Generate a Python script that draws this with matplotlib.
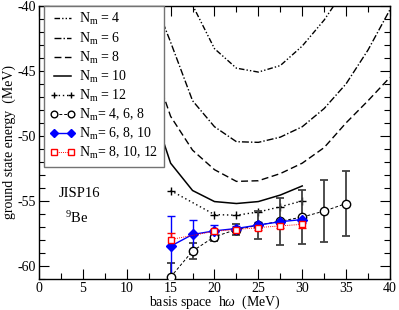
import matplotlib
matplotlib.use('Agg')
import matplotlib.pyplot as plt
from matplotlib.ticker import MultipleLocator

plt.rcParams['font.family'] = ['Liberation Serif', 'DejaVu Serif']
plt.rcParams['mathtext.fontset'] = 'custom'
plt.rcParams['mathtext.rm'] = 'Liberation Serif'
plt.rcParams['mathtext.it'] = 'Liberation Serif:italic'
plt.rcParams['axes.unicode_minus'] = False

# ---- data ----
nm4_x = [15, 17.5, 20, 22.5, 25, 27.5, 30, 32.5, 35]
nm4_y = [-36.5, -39.95, -43.3, -44.8, -45.1, -44.6, -43.1, -41.1, -38.6]

nm6_x = [12.5, 15, 17.5, 20, 22.5, 25, 27.5, 30, 32.5, 35, 37.5, 40]
nm6_y = [-38.5, -42.8, -47.3, -49.3, -50.45, -50.5, -50.1, -49.3, -47.9, -46.0, -43.4, -40.3]

nm8_x = [12.5, 15, 17.5, 20, 22.5, 25, 27.5, 30, 32.5, 35, 37.5, 40]
nm8_y = [-43.6, -48.5, -51.1, -52.6, -53.5, -53.45, -52.9, -52.1, -50.9, -49.0, -47.3, -45.5]

nm10_x = [12.5, 15, 17.5, 20, 22.5, 25, 27.5, 30]
nm10_y = [-47.0, -52.1, -54.2, -55.05, -55.2, -55.05, -54.55, -53.85]

nm12_x = [15, 20, 22.5, 25, 27.5, 30]
nm12_y = [-54.2, -56.05, -56.1, -55.85, -55.45, -55.0]

ext468_x = [15, 17.5, 20, 22.5, 25, 27.5, 30, 32.5, 35]
ext468_y = [-60.85, -58.85, -57.75, -57.2, -56.86, -56.56, -56.24, -55.78, -55.2]
ext468_err = [1.05, 0.6, 0.3, 0.4, 1.09, 1.79, 2.1, 2.38, 2.5]

ext6810_x = [15, 17.5, 20, 22.5, 25, 27.5, 30]
ext6810_y = [-58.48, -57.58, -57.3, -57.12, -56.85, -56.6, -56.43]
ext6810_err = [2.33, 1.15, 0.45, 0.2, 0.2, 0.15, 0.3]

ext81012_x = [15, 20, 22.5, 25, 27.5, 30]
ext81012_y = [-57.97, -57.33, -57.2, -57.05, -56.92, -56.8]
ext81012_err = [0.5, 0.2, 0.15, 0.2, 0.15, 0.3]

labels = [r'N$_\mathrm{m}$ = 4', r'N$_\mathrm{m}$ = 6', r'N$_\mathrm{m}$ = 8',
          r'N$_\mathrm{m}$ = 10', r'N$_\mathrm{m}$ = 12',
          r'N$_\mathrm{m}$= 4, 6, 8', r'N$_\mathrm{m}$= 6, 8, 10', r'N$_\mathrm{m}$= 8, 10, 12']

FS = 10

fig = plt.figure(figsize=(3.99, 3.10), dpi=100)
ax = fig.add_axes([0.0977, 0.1, 0.8797, 0.8816])

handles = []
h, = ax.plot(nm4_x, nm4_y, color='black', lw=1.0, dashes=(4, 1.5, 1, 1.5, 1, 1.5), label=labels[0])
handles.append(h)
h, = ax.plot(nm6_x, nm6_y, color='black', lw=1.0, dashes=(5, 1.5, 1, 1.5), label=labels[1])
handles.append(h)
h, = ax.plot(nm8_x, nm8_y, color='black', lw=1.0, dashes=(5, 2.5), label=labels[2])
handles.append(h)
h, = ax.plot(nm10_x, nm10_y, color='black', lw=1.1, label=labels[3])
handles.append(h)
h, = ax.plot(nm12_x, nm12_y, color='black', lw=1.0, dashes=(1, 2), marker='+', ms=6,
             mew=1.0, label=labels[4])
handles.append(h)

# error bars
ax.errorbar(ext468_x, ext468_y, yerr=ext468_err, fmt='none', ecolor='0.25',
            elinewidth=1.3, capsize=3.2, capthick=1.3, zorder=3)
ax.errorbar(ext6810_x, ext6810_y, yerr=ext6810_err, fmt='none', ecolor='#0000ff',
            elinewidth=1.0, capsize=3.2, capthick=1.0, zorder=3)
ax.errorbar(ext81012_x, ext81012_y, yerr=ext81012_err, fmt='none', ecolor='#ff0000',
            elinewidth=1.0, capsize=3.2, capthick=1.0, zorder=3)

h, = ax.plot(ext468_x, ext468_y, color='black', lw=0.7, dashes=(3, 2), marker='o', ms=6,
             mfc='white', mec='black', mew=1.0, label=labels[5], zorder=4)
handles.append(h)
h, = ax.plot(ext6810_x, ext6810_y, color='#0000ff', lw=1.0, marker='D', ms=5,
             mfc='#0000ff', mec='#0000ff', label=labels[6], zorder=5)
handles.append(h)
h, = ax.plot(ext81012_x, ext81012_y, color='#ff0000', lw=0.7, dashes=(1, 1.2), marker='s', ms=5,
             mfc='white', mec='#ff0000', mew=1.0, label=labels[7], zorder=6)
handles.append(h)

ax.set_xlim(0, 40)
ax.set_ylim(-61, -40)
ax.xaxis.set_major_locator(MultipleLocator(5))
ax.xaxis.set_minor_locator(MultipleLocator(2.5))
ax.yaxis.set_major_locator(MultipleLocator(5))
ax.yaxis.set_minor_locator(MultipleLocator(1))
ax.tick_params(which='both', direction='in', top=True, right=True, labelsize=FS, pad=2.5)
ax.tick_params(which='major', length=7, width=0.8)
ax.tick_params(which='minor', length=4, width=0.8)
for s in ax.spines.values():
    s.set_linewidth(1.0)

ax.set_xlabel(r'basis space  h$\omega$  (MeV)', fontsize=FS, labelpad=-1)
ax.set_ylabel('ground state energy  (MeV)', fontsize=FS, labelpad=1)

ax.text(2.3, -54.4, 'JISP16', fontsize=10.5, ha='left', va='center')
ax.text(3.0, -56.3, r'$^{9}$Be', fontsize=10.5, ha='left', va='center')

leg = ax.legend(handles=handles, loc='upper left', bbox_to_anchor=(0.015, 1.0),
                borderaxespad=0, fontsize=FS, frameon=True, fancybox=False,
                handlelength=1.85, handletextpad=0.25, labelspacing=0.22,
                borderpad=0.4, framealpha=1, numpoints=2, markerscale=0.8)
leg.get_frame().set_edgecolor('0.45')
leg.get_frame().set_linewidth(1.0)
leg.set_zorder(10)

fig.savefig('out.png', dpi=100)
